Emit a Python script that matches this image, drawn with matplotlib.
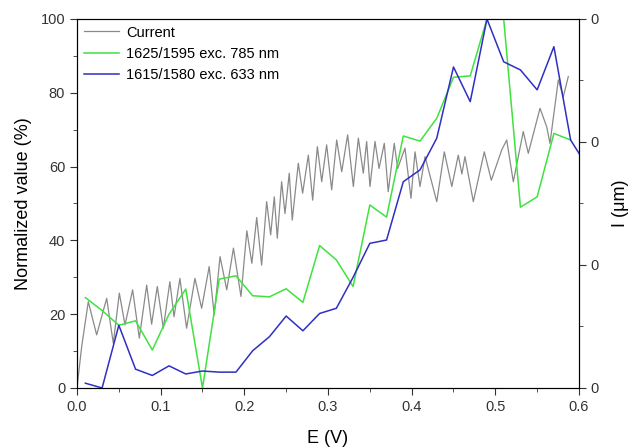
import matplotlib
matplotlib.use('Agg')
import matplotlib.pyplot as plt
from matplotlib.ticker import MultipleLocator, FixedLocator

plt.rcParams['font.family'] = ['Liberation Sans', 'DejaVu Sans']

# current trace (peaks / troughs)
e_cur = [0.0, 0.0056, 0.0135, 0.0235, 0.0355, 0.0434, 0.0506, 0.0574, 0.0665, 0.0745,
         0.0833, 0.0892, 0.096, 0.1032, 0.111, 0.116, 0.123, 0.131, 0.141, 0.149,
         0.158, 0.164, 0.171, 0.179, 0.187, 0.196, 0.203, 0.209, 0.2148, 0.2207,
         0.2267, 0.2315, 0.2358, 0.2394, 0.2446, 0.2486, 0.2537, 0.2573, 0.2645, 0.2697,
         0.2765, 0.2817, 0.2873, 0.2925, 0.2984, 0.3044, 0.3104, 0.3164, 0.3235, 0.3303,
         0.3363, 0.3422, 0.3462, 0.3502, 0.3562, 0.361, 0.3673, 0.372, 0.3792, 0.3833,
         0.392, 0.3992, 0.404, 0.41, 0.416, 0.43, 0.439, 0.448, 0.4557, 0.46,
         0.4637, 0.4737, 0.4868, 0.4952, 0.5076, 0.5136, 0.5215, 0.5334, 0.5394, 0.5534,
         0.5614, 0.5653, 0.5753, 0.5812, 0.5872]
current = [0, 11.2, 23.4, 14.4, 24.3, 12.1, 25.7, 17.1, 26.6, 13.5,
           27.9, 17.3, 27.5, 16.2, 28.8, 19.3, 29.7, 16.2, 29.7, 21.6,
           32.9, 19.8, 35.6, 26.6, 37.9, 24.8, 42.6, 33.8, 46.2, 33.3,
           50.5, 41.5, 51.8, 40.6, 55.9, 47.3, 58.2, 45.5, 60.9, 52.8,
           63.1, 50.9, 65.4, 55.9, 65.9, 53.7, 67.2, 58.6, 68.6, 54.6,
           67.7, 58.2, 66.8, 54.6, 66.8, 59.5, 66.3, 53.2, 66.3, 59.5,
           65.0, 51.4, 64.0, 54.6, 62.7, 50.5, 64.0, 54.6, 63.1, 58.0,
           62.7, 50.5, 64.0, 56.3, 64.5, 67.2, 55.9, 69.5, 63.6, 75.8,
           70.8, 66.3, 83.5, 78.9, 84.4]

e_raman = [0.01, 0.03, 0.05, 0.07, 0.09, 0.11, 0.13, 0.15, 0.17, 0.19,
           0.21, 0.23, 0.25, 0.27, 0.29, 0.31, 0.33, 0.35, 0.37, 0.39,
           0.41, 0.43, 0.45, 0.47, 0.49, 0.51, 0.53, 0.55, 0.57, 0.59]
green = [24.5, 21.0, 17.0, 18.2, 10.3, 20.0, 26.8, 0.0, 29.5, 30.4,
         25.0, 24.7, 26.9, 23.2, 38.6, 34.7, 27.5, 49.6, 46.3, 68.3,
         66.9, 73.1, 84.2, 84.6, 100.0, 100.0, 49.0, 51.8, 69.0, 67.2]

e_blue = e_raman + [0.61]
blue = [1.3, 0.0, 17.0, 5.1, 3.4, 6.0, 3.8, 4.6, 4.3, 4.3,
        10.1, 13.9, 19.5, 15.5, 20.2, 21.6, 30.0, 39.2, 40.1, 55.9,
        59.1, 67.7, 87.0, 77.6, 100.0, 88.4, 86.2, 80.8, 92.5, 67.2, 60.0]

fig = plt.figure(figsize=(6.29, 4.47), dpi=100)
ax = fig.add_axes([0.1224, 0.132, 0.7981, 0.8255])

ax.plot(e_cur, current, color='#8a8a8a', lw=0.9, label='Current')
ax.plot(e_raman, green, color='#3fe23f', lw=1.1, label='1625/1595 exc. 785 nm')
ax.plot(e_blue, blue, color='#2f2fc4', lw=1.1, label='1615/1580 exc. 633 nm')

ax.set_xlim(0, 0.6)
ax.set_ylim(0, 100)
ax.xaxis.set_major_locator(MultipleLocator(0.1))
ax.xaxis.set_minor_locator(MultipleLocator(0.05))
ax.yaxis.set_major_locator(MultipleLocator(20))
ax.yaxis.set_minor_locator(MultipleLocator(10))
ax.set_xticklabels(['%.1f' % v for v in ax.get_xticks()])
ax.tick_params(which='both', direction='out', labelsize=10.5, colors='#333333')
ax.tick_params(which='major', length=5)
ax.tick_params(which='minor', length=3)
ax.set_xlabel('E (V)', fontsize=13, labelpad=12)
ax.set_ylabel('Normalized value (%)', fontsize=13, labelpad=6)
for s in ax.spines.values():
    s.set_color('#222222')

ax2 = ax.twinx()
ax2.set_ylim(0, 3)
ax2.yaxis.set_major_locator(FixedLocator([0, 1, 2, 3]))
ax2.yaxis.set_minor_locator(FixedLocator([0.5, 1.5, 2.5]))
ax2.set_yticklabels(['0', '0', '0', '0'])
ax2.tick_params(which='both', direction='out', labelsize=10.5, colors='#333333')
ax2.tick_params(which='major', length=5)
ax2.tick_params(which='minor', length=3)
ax2.set_ylabel('I (μm)', fontsize=13, labelpad=9)

ax.legend(loc='upper left', frameon=False, fontsize=10.5, handlelength=2.4,
          handletextpad=0.5, labelspacing=0.5, borderaxespad=0.25,
          borderpad=0.2)

fig.savefig('out.png', dpi=100)
